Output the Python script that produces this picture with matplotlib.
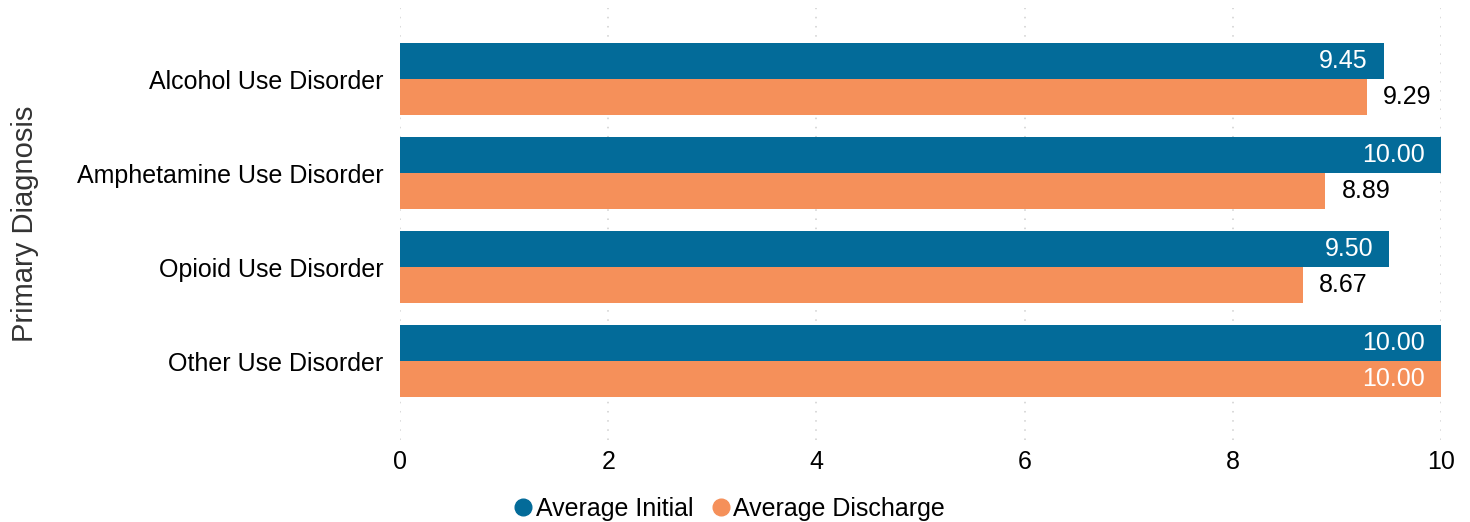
import matplotlib
matplotlib.use("Agg")
import matplotlib.pyplot as plt
from matplotlib.lines import Line2D
import numpy as np

plt.rcParams['font.family'] = ['Liberation Sans', 'DejaVu Sans']

diagnoses = [
    "Alcohol Use Disorder",
    "Amphetamine Use Disorder",
    "Opioid Use Disorder",
    "Other Use Disorder",
]
avg_initial = [9.45, 10.00, 9.50, 10.00]
avg_discharge = [9.29, 8.89, 8.67, 10.00]
series_names = ["Average Initial", "Average Discharge"]

BLUE = "#036B99"
ORANGE = "#F5905A"
BAR_H = 0.385
LABEL_FONT = 18
INSIDE_MIN = 9.4  # labels go inside the bar from this value up

fig = plt.figure(figsize=(14.7, 5.22), dpi=100)
ax = fig.add_axes([0.2721, 0.157, 0.7082, 0.828])

y = np.arange(len(diagnoses))
bars_i = ax.barh(y - BAR_H / 2, avg_initial, height=BAR_H, color=BLUE, zorder=2)
bars_d = ax.barh(y + BAR_H / 2, avg_discharge, height=BAR_H, color=ORANGE, zorder=2)


def label_bars(bars, values):
    for bar, v in zip(bars, values):
        yc = bar.get_y() + bar.get_height() / 2
        if v >= INSIDE_MIN:
            ax.annotate("%.2f" % v, (v, yc), xytext=(-11.5, 0),
                        textcoords="offset points", ha="right", va="center",
                        color="white", fontsize=LABEL_FONT, zorder=3)
        else:
            ax.annotate("%.2f" % v, (v, yc), xytext=(11.5, 0),
                        textcoords="offset points", ha="left", va="center",
                        color="black", fontsize=LABEL_FONT, zorder=3)


label_bars(bars_i, avg_initial)
label_bars(bars_d, avg_discharge)

ax.set_xlim(0, 10)
ax.set_ylim(3.84, -0.76)
ax.set_xticks(np.arange(0, 11, 2))
ax.set_yticks(y)
ax.set_yticklabels(diagnoses)
ax.tick_params(axis="both", length=0, labelsize=LABEL_FONT)
ax.tick_params(axis="y", pad=12)
ax.tick_params(axis="x", pad=7)
ax.grid(axis="x", color="#CFCFCF", linestyle=(0, (1, 5)), linewidth=1.1, zorder=0)
ax.grid(axis="y", visible=False)
for s in ax.spines.values():
    s.set_visible(False)

ax.set_ylabel("Primary Diagnosis", fontsize=21, color="#333333", labelpad=0)
ax.yaxis.set_label_coords(-0.347, 0.5)

handles = [
    Line2D([], [], marker="o", linestyle="", markersize=12, color=BLUE),
    Line2D([], [], marker="o", linestyle="", markersize=12, color=ORANGE),
]
fig.legend(handles, series_names, loc="center", bbox_to_anchor=(0.495, 0.025),
           ncol=2, frameon=False, fontsize=LABEL_FONT, handletextpad=0.0,
           columnspacing=0.6, handlelength=1.0)

fig.savefig("out.png", dpi=100)
